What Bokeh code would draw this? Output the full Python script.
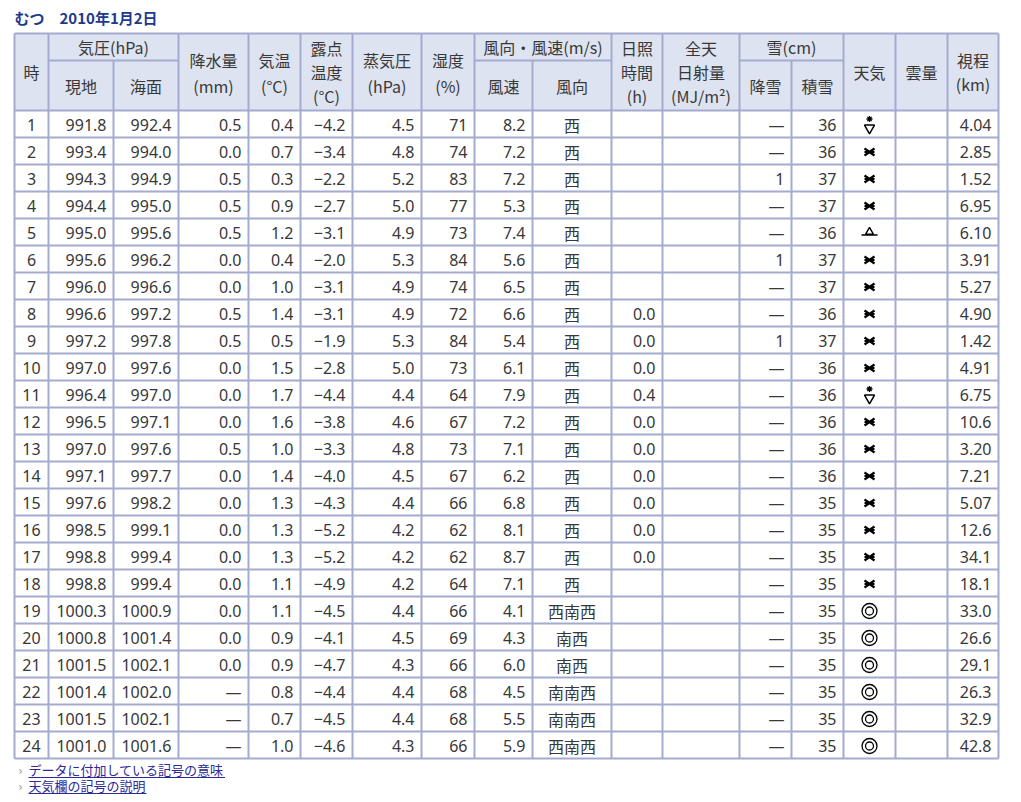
from bokeh.plotting import figure
from bokeh.models import ColumnDataSource, Range1d
from bokeh.core.properties import value
from bokeh.embed import file_html
from bokeh.resources import INLINE

# --- data: むつ 2010年1月2日 (hourly) ---
hours = [str(h) for h in range(1, 25)]
p_station = ["991.8", "993.4", "994.3", "994.4", "995.0", "995.6", "996.0", "996.6",
             "997.2", "997.0", "996.4", "996.5", "997.0", "997.1", "997.6", "998.5",
             "998.8", "998.8", "1000.3", "1000.8", "1001.5", "1001.4", "1001.5", "1001.0"]
p_sea = ["992.4", "994.0", "994.9", "995.0", "995.6", "996.2", "996.6", "997.2",
         "997.8", "997.6", "997.0", "997.1", "997.6", "997.7", "998.2", "999.1",
         "999.4", "999.4", "1000.9", "1001.4", "1002.1", "1002.0", "1002.1", "1001.6"]
precip = ["0.5", "0.0", "0.5", "0.5", "0.5", "0.0", "0.0", "0.5", "0.5", "0.0", "0.0", "0.0",
          "0.5", "0.0", "0.0", "0.0", "0.0", "0.0", "0.0", "0.0", "0.0", "—", "—", "—"]
temp = ["0.4", "0.7", "0.3", "0.9", "1.2", "0.4", "1.0", "1.4", "0.5", "1.5", "1.7", "1.6",
        "1.0", "1.4", "1.3", "1.3", "1.3", "1.1", "1.1", "0.9", "0.9", "0.8", "0.7", "1.0"]
dew = ["−4.2", "−3.4", "−2.2", "−2.7", "−3.1", "−2.0", "−3.1", "−3.1", "−1.9", "−2.8",
       "−4.4", "−3.8", "−3.3", "−4.0", "−4.3", "−5.2", "−5.2", "−4.9", "−4.5", "−4.1",
       "−4.7", "−4.4", "−4.5", "−4.6"]
vapor = ["4.5", "4.8", "5.2", "5.0", "4.9", "5.3", "4.9", "4.9", "5.3", "5.0", "4.4", "4.6",
         "4.8", "4.5", "4.4", "4.2", "4.2", "4.2", "4.4", "4.5", "4.3", "4.4", "4.4", "4.3"]
humidity = ["71", "74", "83", "77", "73", "84", "74", "72", "84", "73", "64", "67",
            "73", "67", "66", "62", "62", "64", "66", "69", "66", "68", "68", "66"]
wind_speed = ["8.2", "7.2", "7.2", "5.3", "7.4", "5.6", "6.5", "6.6", "5.4", "6.1", "7.9", "7.2",
              "7.1", "6.2", "6.8", "8.1", "8.7", "7.1", "4.1", "4.3", "6.0", "4.5", "5.5", "5.9"]
wind_dir = ["西"] * 18 + ["西南西", "南西", "南西", "南南西", "南南西", "西南西"]
sunshine = [""] * 7 + ["0.0", "0.0", "0.0", "0.4", "0.0", "0.0", "0.0", "0.0", "0.0", "0.0"] + [""] * 7
radiation = [""] * 24
snowfall = ["—", "—", "1", "—", "—", "1", "—", "—", "1"] + ["—"] * 15
snow_depth = ["36", "36", "37", "37", "36", "37", "37", "36", "37", "36", "36", "36",
              "36", "36", "35", "35", "35", "35", "35", "35", "35", "35", "35", "35"]
weather = ["snow_shower", "snow", "snow", "snow", "ice_pellets", "snow", "snow", "snow",
           "snow", "snow", "snow_shower", "snow", "snow", "snow", "snow", "snow",
           "snow", "snow", "clear", "clear", "clear", "clear", "clear", "clear"]
cloud = [""] * 24
visibility = ["4.04", "2.85", "1.52", "6.95", "6.10", "3.91", "5.27", "4.90", "1.42", "4.91",
              "6.75", "10.6", "3.20", "7.21", "5.07", "12.6", "34.1", "18.1", "33.0", "26.6",
              "29.1", "26.3", "32.9", "42.8"]

title = "むつ　2010年1月2日"
links = ["データに付加している記号の意味", "天気欄の記号の説明"]

# --- layout (page pixel coordinates) ---
edges = [14, 48, 113, 178, 248, 300, 352, 421, 474, 532, 611, 662, 739, 791, 843, 895, 947, 998]
top, mid, head_bot, row_h = 33, 60, 110, 27
bottom = head_bot + row_h * 24
border = "#a3acd0"
head_fill = "#dde3f0"
txt = "#383838"
font = value("Noto Sans CJK JP")
num_font = value("Noto Sans")

p = figure(width=1013, height=794, output_backend="svg", toolbar_location=None,
           x_range=Range1d(0, 1013), y_range=Range1d(794, 0), min_border=0)
p.axis.visible = False
p.grid.visible = False
p.outline_line_color = None
p.background_fill_color = "white"

# header background
p.quad(left=[edges[0]], right=[edges[-1]], top=[top], bottom=[head_bot],
       fill_color=head_fill, line_color=None)

# grid lines
spans = [(1, 3), (8, 10), (12, 14)]  # grouped header cells (edge indices)
inner_split = {2, 9, 13}
vx0, vy0, vx1, vy1 = [], [], [], []
for i, e in enumerate(edges):
    vx0.append(e); vx1.append(e)
    vy0.append(mid if i in inner_split else top); vy1.append(bottom)
hy = [top, head_bot] + [head_bot + row_h * (k + 1) for k in range(24)]
for y in hy:
    vx0.append(edges[0]); vx1.append(edges[-1]); vy0.append(y); vy1.append(y)
for a, b in spans:
    vx0.append(edges[a]); vx1.append(edges[b]); vy0.append(mid); vy1.append(mid)
p.segment(x0=vx0, y0=vy0, x1=vx1, y1=vy1, line_color=border, line_width=2)

# header labels: (left edge idx, right edge idx, lines, y centres)
headers = [
    (0, 1, ["時"], [71]),
    (1, 3, ["気圧(hPa)"], [46]),
    (1, 2, ["現地"], [85]),
    (2, 3, ["海面"], [85]),
    (3, 4, ["降水量", "(mm)"], [59, 85]),
    (4, 5, ["気温", "(°C)"], [59, 85]),
    (5, 6, ["露点", "温度", "(°C)"], [47, 71, 95]),
    (6, 7, ["蒸気圧", "(hPa)"], [59, 85]),
    (7, 8, ["湿度", "(%)"], [59, 85]),
    (8, 10, ["風向・風速(m/s)"], [46]),
    (8, 9, ["風速"], [85]),
    (9, 10, ["風向"], [85]),
    (10, 11, ["日照", "時間", "(h)"], [47, 71, 95]),
    (11, 12, ["全天", "日射量", "(MJ/m²)"], [47, 71, 95]),
    (12, 14, ["雪(cm)"], [46]),
    (12, 13, ["降雪"], [85]),
    (13, 14, ["積雪"], [85]),
    (14, 15, ["天気"], [71]),
    (15, 16, ["雲量"], [71]),
    (16, 17, ["視程", "(km)"], [59, 83]),
]
hx, hyy, ht = [], [], []
for a, b, lines, ys in headers:
    for s, y in zip(lines, ys):
        hx.append((edges[a] + edges[b]) / 2); hyy.append(y); ht.append(s)
p.text(x=hx, y=hyy, text=ht, text_align="center", text_baseline="middle",
       text_font=font, text_font_size="16px", text_color=txt)

# data cells
row_y = [head_bot + row_h * k + row_h / 2 + 1 for k in range(24)]
right_cols = [(2, p_station), (3, p_sea), (4, precip), (5, temp), (6, dew), (7, vapor),
              (8, humidity), (9, wind_speed), (11, sunshine), (12, radiation),
              (13, snowfall), (14, snow_depth), (17, visibility)]
rx, ry, rt = [], [], []
for ei, col in right_cols:
    for y, s in zip(row_y, col):
        if s:
            rx.append(edges[ei] - 7); ry.append(y); rt.append(s)
src_r = ColumnDataSource(dict(x=rx, y=ry, t=rt))
p.text(x="x", y="y", text="t", source=src_r, text_align="right", text_baseline="middle",
       text_font=num_font, text_font_size="16px", text_color=txt)

hx2 = [(edges[0] + edges[1]) / 2] * 24
p.text(x=hx2, y=row_y, text=hours, text_align="center", text_baseline="middle",
       text_font=num_font, text_font_size="16px", text_color=txt)
cx, cy, ct = [], [], []
for ei, col in [(9, wind_dir), (15, cloud)]:
    for y, s in zip(row_y, col):
        if s:
            cx.append((edges[ei] + edges[ei + 1]) / 2); cy.append(y); ct.append(s)
p.text(x=cx, y=cy, text=ct, text_align="center", text_baseline="middle",
       text_font=font, text_font_size="16px", text_color=txt)

# weather symbols
wx = (edges[14] + edges[15]) / 2
ys_of = lambda kind: [y for y, w in zip(row_y, weather) if w == kind]
sn = ys_of("snow")
n = len(sn)
# snow: flattened X with a horizontal bar
p.segment(x0=[wx - 5] * n, y0=[y - 3.5 for y in sn], x1=[wx + 5] * n, y1=[y + 3.5 for y in sn],
          line_color="black", line_width=2.2)
p.segment(x0=[wx - 5] * n, y0=[y + 3.5 for y in sn], x1=[wx + 5] * n, y1=[y - 3.5 for y in sn],
          line_color="black", line_width=2.2)
p.segment(x0=[wx - 5] * n, y0=sn, x1=[wx + 5] * n, y1=sn, line_color="black", line_width=2)
ss = ys_of("snow_shower")
p.scatter(x=[wx] * len(ss), y=[y + 3 for y in ss], marker="inverted_triangle", size=10,
          fill_color="white", line_color="black", line_width=1.5)
p.scatter(x=[wx] * len(ss), y=[y - 6 for y in ss], marker="asterisk", size=6,
          line_color="black", line_width=1.3)
ip = ys_of("ice_pellets")
p.scatter(x=[wx] * len(ip), y=[y - 1 for y in ip], marker="triangle", size=8,
          fill_color="white", line_color="black", line_width=1.4)
p.scatter(x=[wx] * len(ip), y=[y + 2 for y in ip], marker="dash", size=16,
          line_color="black", line_width=1.4)
cl = ys_of("clear")
p.scatter(x=[wx] * len(cl), y=cl, marker="circle", size=15, fill_color=None,
          line_color="black", line_width=1.3)
p.scatter(x=[wx] * len(cl), y=cl, marker="circle", size=8, fill_color=None,
          line_color="black", line_width=1.3)

# title
p.text(x=[14], y=[17], text=[title], text_align="left", text_baseline="middle",
       text_font=font, text_font_size="15px", text_font_style="bold", text_color="#1d3a8c")

# footer links
link_y = [769, 785]
p.text(x=[18] * 2, y=link_y, text=["›"] * 2, text_align="left", text_baseline="middle",
       text_font=font, text_font_size="12px", text_color="#888888")
p.text(x=[28] * 2, y=link_y, text=links, text_align="left", text_baseline="middle",
       text_font=font, text_font_size="13px", text_color="#2a2a9c")
p.segment(x0=[28] * 2, y0=[y + 8 for y in link_y],
          x1=[28 + 13.1 * len(s) for s in links], y1=[y + 8 for y in link_y],
          line_color="#2a2a9c", line_width=1)

open("out.html", "w").write(file_html(p, INLINE))
